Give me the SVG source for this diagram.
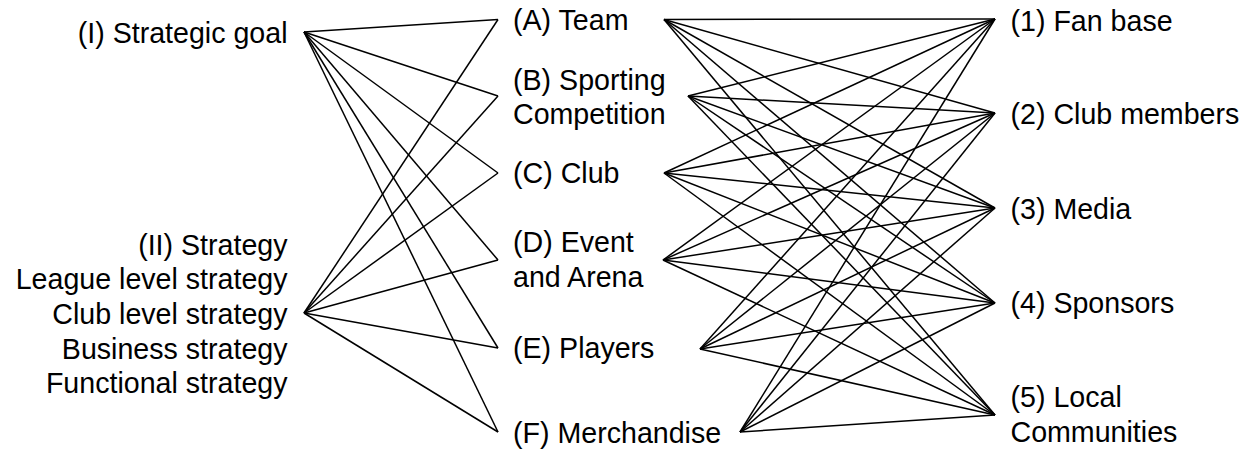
<svg xmlns="http://www.w3.org/2000/svg" width="1255" height="449" viewBox="0 0 1255 449">
<style>
text{font-family:"Liberation Sans",Arial,sans-serif;font-size:28.6px;fill:#000}
.r{text-anchor:end}
#connectors line{stroke:#000;stroke-width:1.5}
</style>
<rect width="1255" height="449" fill="#fff"/>
<g id="connectors">
<line x1="304" y1="32" x2="498" y2="19.5"/>
<line x1="304" y1="32" x2="498" y2="96"/>
<line x1="304" y1="32" x2="498" y2="173"/>
<line x1="304" y1="32" x2="498" y2="260"/>
<line x1="304" y1="32" x2="498" y2="348"/>
<line x1="304" y1="32" x2="498" y2="432"/>
<line x1="304" y1="313" x2="498" y2="19.5"/>
<line x1="304" y1="313" x2="498" y2="96"/>
<line x1="304" y1="313" x2="498" y2="173"/>
<line x1="304" y1="313" x2="498" y2="260"/>
<line x1="304" y1="313" x2="498" y2="348"/>
<line x1="304" y1="313" x2="498" y2="432"/>
<line x1="664" y1="19.5" x2="995" y2="19"/>
<line x1="664" y1="19.5" x2="995" y2="113"/>
<line x1="664" y1="19.5" x2="995" y2="208"/>
<line x1="664" y1="19.5" x2="995" y2="303"/>
<line x1="664" y1="19.5" x2="995" y2="415"/>
<line x1="688" y1="96" x2="995" y2="19"/>
<line x1="688" y1="96" x2="995" y2="113"/>
<line x1="688" y1="96" x2="995" y2="208"/>
<line x1="688" y1="96" x2="995" y2="303"/>
<line x1="688" y1="96" x2="995" y2="415"/>
<line x1="664" y1="173" x2="995" y2="19"/>
<line x1="664" y1="173" x2="995" y2="113"/>
<line x1="664" y1="173" x2="995" y2="208"/>
<line x1="664" y1="173" x2="995" y2="303"/>
<line x1="664" y1="173" x2="995" y2="415"/>
<line x1="663" y1="260" x2="995" y2="19"/>
<line x1="663" y1="260" x2="995" y2="113"/>
<line x1="663" y1="260" x2="995" y2="208"/>
<line x1="663" y1="260" x2="995" y2="303"/>
<line x1="663" y1="260" x2="995" y2="415"/>
<line x1="700" y1="349" x2="995" y2="19"/>
<line x1="700" y1="349" x2="995" y2="113"/>
<line x1="700" y1="349" x2="995" y2="208"/>
<line x1="700" y1="349" x2="995" y2="303"/>
<line x1="700" y1="349" x2="995" y2="415"/>
<line x1="740" y1="432" x2="995" y2="19"/>
<line x1="740" y1="432" x2="995" y2="113"/>
<line x1="740" y1="432" x2="995" y2="208"/>
<line x1="740" y1="432" x2="995" y2="303"/>
<line x1="740" y1="432" x2="995" y2="415"/>
</g>
<g id="node-I"><text class="r" x="287.5" y="42.5">(I) Strategic goal</text></g>
<g id="node-II">
<text class="r" x="287.5" y="254.5">(II) Strategy</text>
<text class="r" x="287.5" y="289">League level strategy</text>
<text class="r" x="287.5" y="324">Club level strategy</text>
<text class="r" x="287.5" y="358.5">Business strategy</text>
<text class="r" x="287.5" y="393">Functional strategy</text>
</g>
<g id="node-A"><text x="513" y="30">(A) Team</text></g>
<g id="node-B"><text x="513" y="90">(B) Sporting</text><text x="513" y="124">Competition</text></g>
<g id="node-C"><text x="513" y="182.5">(C) Club</text></g>
<g id="node-D"><text x="513" y="252">(D) Event</text><text x="513" y="286.5">and Arena</text></g>
<g id="node-E"><text x="513" y="358">(E) Players</text></g>
<g id="node-F"><text x="513" y="443">(F) Merchandise</text></g>
<g id="node-1"><text x="1010.5" y="30.5">(1) Fan base</text></g>
<g id="node-2"><text x="1010.5" y="124">(2) Club members</text></g>
<g id="node-3"><text x="1010.5" y="218.5">(3) Media</text></g>
<g id="node-4"><text x="1010.5" y="313">(4) Sponsors</text></g>
<g id="node-5"><text x="1010.5" y="407">(5) Local</text><text x="1010.5" y="441.5">Communities</text></g>
</svg>
